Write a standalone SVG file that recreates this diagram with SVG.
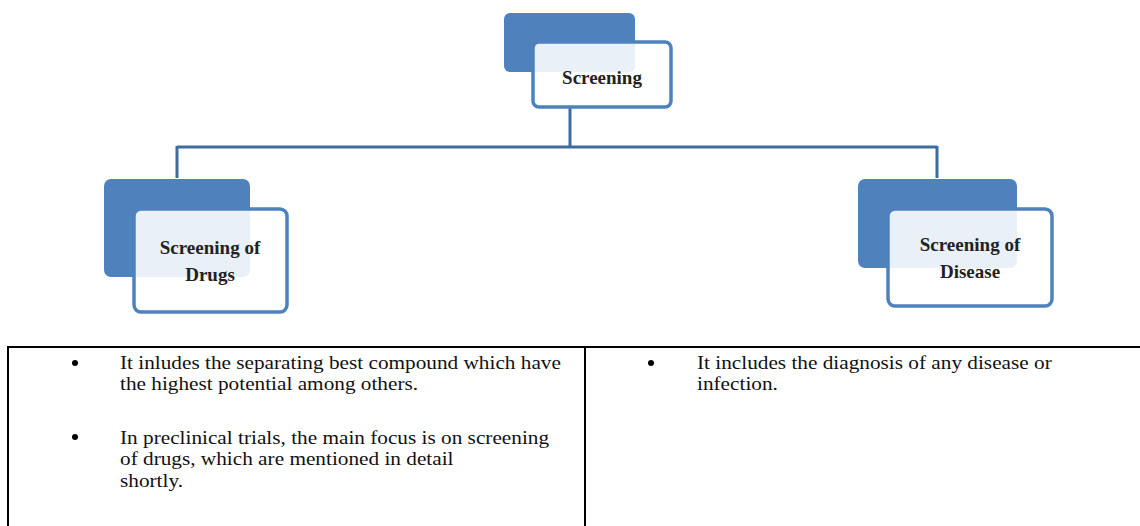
<svg xmlns="http://www.w3.org/2000/svg" width="1140" height="526" viewBox="0 0 1140 526">
<style>
.back{fill:#4f81bd;}
.front{fill:#ffffff;fill-opacity:0.88;stroke:#4f81bd;stroke-width:3.5;}
.lbl{font-family:"Liberation Serif","DejaVu Serif",serif;font-weight:bold;font-size:19px;fill:#222;text-anchor:middle;}
.conn{fill:none;stroke:#3d6c9e;stroke-width:3;}
.tbl{stroke:#000;stroke-width:2;fill:none;}
.txt{font-family:"Liberation Serif","Times New Roman",serif;font-size:19.6px;fill:#111;}
</style>
<rect width="1140" height="526" fill="#fff"/>
<g id="connectors">
<path class="conn" d="M570,107 V147 M177,147 H937 M177,146 V178 M937,146 V178"/>
</g>
<g id="screening">
<rect class="back" x="504" y="13" width="131" height="59" rx="6"/>
<rect class="front" x="533" y="42" width="138" height="65" rx="6"/>
<text class="lbl" x="602" y="84">Screening</text>
</g>
<g id="screening-drugs">
<rect class="back" x="104" y="179" width="146" height="98" rx="7"/>
<rect class="front" x="134" y="209" width="153" height="103" rx="7"/>
<text class="lbl" x="210" y="254">Screening of</text>
<text class="lbl" x="210" y="281">Drugs</text>
</g>
<g id="screening-disease">
<rect class="back" x="858" y="179" width="159" height="89" rx="7"/>
<rect class="front" x="888" y="209" width="164" height="97" rx="7"/>
<text class="lbl" x="970" y="251">Screening of</text>
<text class="lbl" x="970" y="278">Disease</text>
</g>
<g id="table">
<path class="tbl" d="M7,347 H1140 M8,346 V526 M585,346 V526"/>
<circle cx="75" cy="363" r="3" fill="#000"/>
<circle cx="75" cy="437" r="3" fill="#000"/>
<circle cx="651" cy="363" r="3" fill="#000"/>
<g transform="translate(120,0) scale(1.085,1)">
<text class="txt" x="0" y="369">It inludes the separating best compound which have</text>
<text class="txt" x="0" y="390.5">the highest potential among others.</text>
<text class="txt" x="0" y="444">In preclinical trials, the main focus is on screening</text>
<text class="txt" x="0" y="465.5">of drugs, which are mentioned in detail</text>
<text class="txt" x="0" y="487">shortly.</text>
</g>
<g transform="translate(697,0) scale(1.085,1)">
<text class="txt" x="0" y="369">It includes the diagnosis of any disease or</text>
<text class="txt" x="0" y="390.5">infection.</text>
</g>
</g>
</svg>
